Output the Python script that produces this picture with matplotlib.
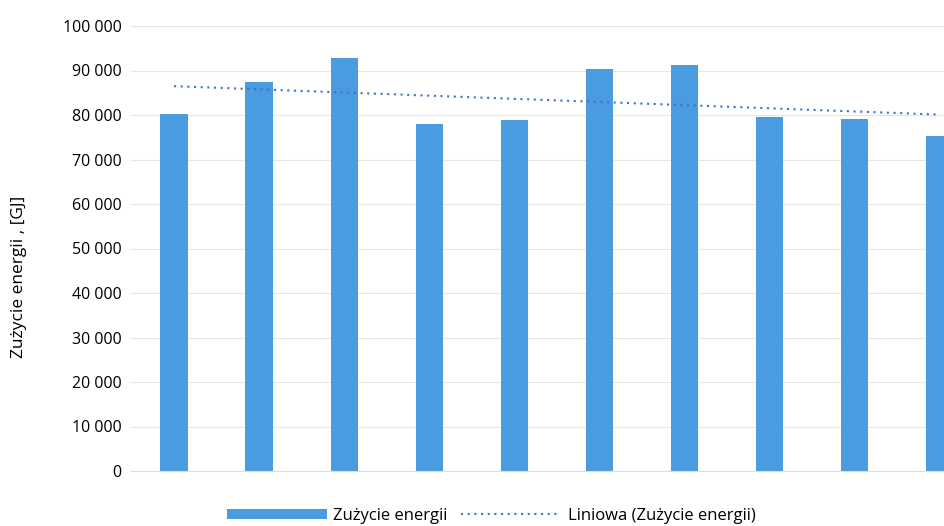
import numpy as np
import matplotlib.pyplot as plt
from matplotlib.patches import Patch
from matplotlib.lines import Line2D

# values (GJ)
categories = list(range(10))
energy = [80200, 87400, 92800, 78000, 78900, 90300, 91200, 79600, 79100, 75300]
yticks = [0, 10000, 20000, 30000, 40000, 50000, 60000, 70000, 80000, 90000, 100000]

bar_col = '#4a9be0'
trend_col = '#3f74c2'

plt.rcParams['font.family'] = ['Open Sans', 'DejaVu Sans']

fig = plt.figure(figsize=(9.44, 5.26), dpi=100)
W, H = 944., 526.
x_step = 85.1
x0 = 174.
left = x0 - x_step / 2
ax = fig.add_axes([left / W, 55 / H, (W - left) / W, 445 / H])

x = np.arange(len(energy))
ax.bar(x, energy, width=0.32, color=bar_col, zorder=2)

# linear trend like Excel's "Liniowa"
a, b = np.polyfit(x, energy, 1)
ax.plot(x, a * x + b, linestyle=(0, (1, 2.2)), color=trend_col, lw=1.5, zorder=3)

ax.set_xlim(-0.5, (W - x0) / x_step)
ax.set_ylim(0, 100000)
ax.set_yticks(yticks)
ax.set_yticklabels(['{:,}'.format(v).replace(',', ' ') for v in yticks], fontsize=11.5)
ax.set_xticks([])
ax.tick_params(axis='y', length=0, pad=7)
ax.grid(axis='y', color='#e6e6e6', lw=0.8, zorder=0)
for s in ax.spines.values():
	s.set_visible(False)
ax.spines['bottom'].set_visible(True)
ax.spines['bottom'].set_color('#dddddd')

fig.text(19 / W, 249 / H, 'Zużycie energii , [GJ]', rotation=90, fontsize=12.5,
	ha='center', va='center')

handles = [Patch(facecolor=bar_col, edgecolor='none'),
	Line2D([], [], linestyle=(0, (1, 2.2)), color=trend_col, lw=1.5)]
fig.legend(handles, ['Zużycie energii', 'Liniowa (Zużycie energii)'], loc='center',
	bbox_to_anchor=(491 / W, 1 - 516 / H), ncol=2, frameon=False, fontsize=12,
	handlelength=6.0, handleheight=0.6, columnspacing=0.8, handletextpad=0.4)

fig.savefig('out.png', dpi=100)
